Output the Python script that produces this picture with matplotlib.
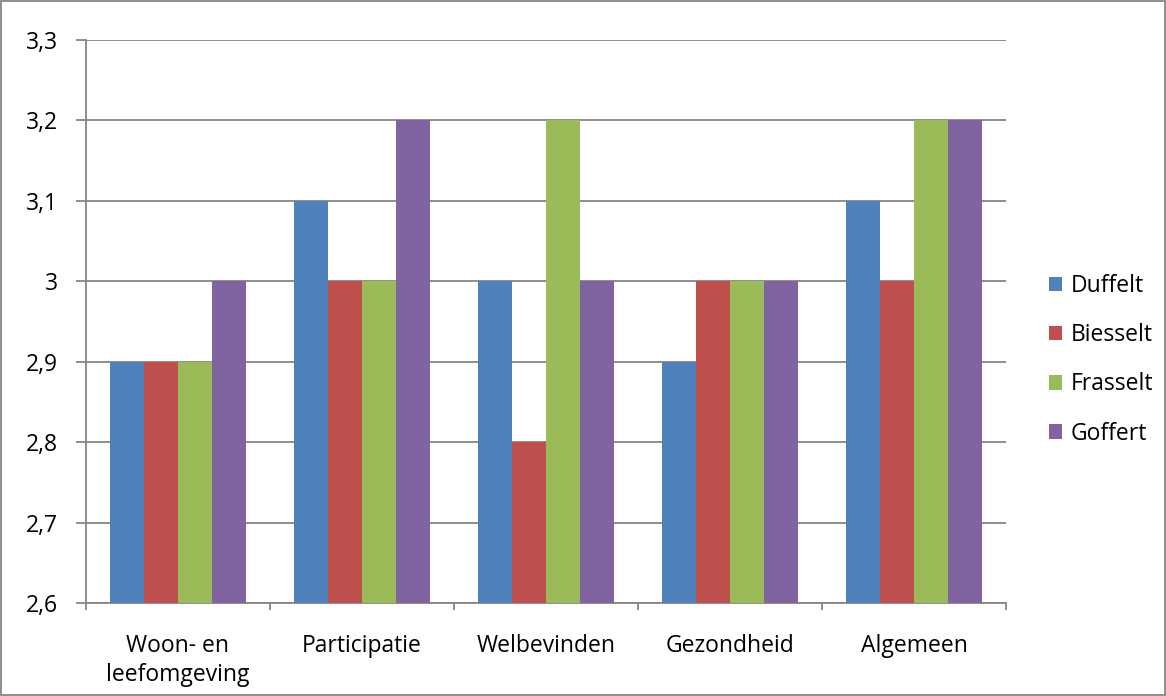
import numpy as np
import matplotlib
matplotlib.use("Agg")
import matplotlib.pyplot as plt
from matplotlib.patches import Rectangle

categories = ["Woon- en\nleefomgeving", "Participatie", "Welbevinden", "Gezondheid", "Algemeen"]
series = ["Duffelt", "Biesselt", "Frasselt", "Goffert"]
duffelt = [2.9, 3.1, 3.0, 2.9, 3.1]
biesselt = [2.9, 3.0, 2.8, 3.0, 3.0]
frasselt = [2.9, 3.0, 3.2, 3.0, 3.2]
goffert = [3.0, 3.2, 3.0, 3.0, 3.2]
colors = ["#4F81BD", "#C0504D", "#9BBB59", "#8064A2"]

plt.rcParams["font.family"] = ["Open Sans", "DejaVu Sans"]
grey = "#868686"
fs = 16.5

fig = plt.figure(figsize=(11.66, 6.96), dpi=100)
ax = fig.add_axes([86 / 1166, 93 / 696, 920 / 1166, 563 / 696])

base = 2.6
x = np.arange(len(categories))
w = 0.185
for i, (name, vals) in enumerate(zip(series, [duffelt, biesselt, frasselt, goffert])):
    offs = (i - 1.5) * w
    ax.bar(x + offs, np.array(vals) - base, w, bottom=base, color=colors[i],
           label=name, zorder=3)

ax.set_xlim(-0.5, len(categories) - 0.5)
ax.set_ylim(2.6, 3.3)
yt = np.round(np.arange(2.6, 3.31, 0.1), 1)
ax.set_yticks(yt)
ax.set_yticklabels([f"{v:g}".replace(".", ",") for v in yt], fontsize=fs)
ax.yaxis.grid(True, color=grey, linewidth=1.3, zorder=0)

ax.set_xticks(x)
ax.set_xticklabels(categories, fontsize=fs, linespacing=1.3)
ax.set_xticks(np.arange(-0.5, len(categories)), minor=True)
ax.tick_params(axis="x", which="major", length=0, pad=22)
ax.tick_params(axis="x", which="minor", length=5, color=grey, width=1.3)
ax.tick_params(axis="y", length=7, color=grey, width=1.3, pad=13)

for s in ["top", "right"]:
    ax.spines[s].set_visible(False)
for s in ["left", "bottom"]:
    ax.spines[s].set_color(grey)
    ax.spines[s].set_linewidth(1.3)

fig.legend(loc="center left", bbox_to_anchor=(1028 / 1166, 0.483), frameon=False,
           fontsize=fs, handlelength=0.6, handleheight=0.6, handletextpad=0.35,
           labelspacing=1.1)

fig.patches.append(Rectangle((0.001, 0.001), 0.998, 0.997, transform=fig.transFigure,
                             fill=False, edgecolor=grey, linewidth=1.3))

fig.savefig("out.png", dpi=100)
